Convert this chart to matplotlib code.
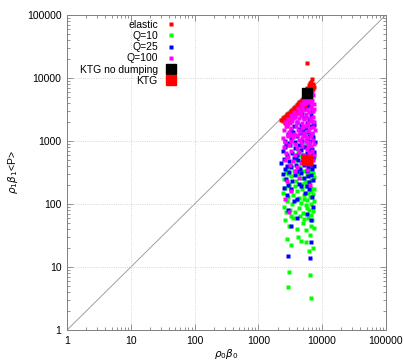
import matplotlib
matplotlib.use("Agg")
import matplotlib.pyplot as plt
from matplotlib.ticker import FixedLocator, NullFormatter, LogLocator

plt.rcParams['font.family'] = ['Liberation Sans', 'DejaVu Sans']

# ---- data ----
elastic = [(2300,2150),(2400,2300),(2450,2050),(2550,2400),(2600,2250),(2700,2500),(2750,2300),(2800,2650),
           (2900,2600),(2950,2450),(3000,2800),(3050,2700),(3100,2500),(3200,3000),(3250,2850),(3300,2600),
           (3400,3150),(3450,3000),(3500,2800),(3600,3350),(3650,3200),(3700,2900),(3800,3500),(3850,3300),
           (3900,3100),(4000,3700),(4050,3500),(4100,3200),(4200,3900),(4250,3600),(4300,3300),(4400,4100),
           (4450,3800),(4500,3500),(4600,4300),(4650,4000),(4700,3600),(4800,4500),(4850,4200),(4900,3800),
           (5000,4700),(5100,4400),(5200,4900),(5300,4600),(5400,5100),(5500,4800),(5600,5300),(5700,5000),
           (5800,5600),(5900,5200),(6000,5800),(6100,5500),(6200,6100),(6300,5700),(6400,6300),(6500,6000),
           (6600,6700),(6700,6200),(6800,7000),(6900,6500),(7000,7300),(7100,6800),(7200,7600),(6500,8200),
           (6800,8800),(7000,9500),(6300,7800),(5900,7000),(7300,8000),(7500,7200),
           (3000,2100),(3400,2300),(3800,2600),(4200,2800),(4600,3000),(5000,3300),(5400,3600),(5800,3900),
           (6200,4200),(2600,1900),(3600,2400),(4400,3100),(5200,3700),(2800,1700),(5600,4100),(5700,17000)]

q10 = [(5500,900),(6800,750),(7300,650),(4200,700),(6100,620),
       (3200,420),(3800,500),(4300,380),(4800,550),(5300,450),(5800,520),(6300,400),(6900,480),(7400,550),
       (4500,600),(2800,370),(6600,580),
       (2500,250),(2700,320),(3000,210),(3300,280),(3600,340),(3900,230),(4200,300),(4600,260),(5000,330),
       (5400,220),(5900,290),(6300,340),(6700,240),(7100,310),(7500,270),(2900,300),(4800,210),(6000,220),
       (2400,150),(2600,180),(2900,130),(3200,170),(3500,140),(3800,190),(4100,160),(4400,125),(4800,175),
       (5200,140),(5600,195),(6000,150),(6400,130),(6800,180),(7200,145),(7600,170),(3000,190),(5300,120),
       (6600,160),
       (2500,90),(2800,110),(3100,80),(3400,100),(3700,75),(4000,115),(4300,85),(4700,105),(5100,72),
       (5500,95),(5900,115),(6300,80),(6700,100),(7100,78),(7500,110),(2700,75),(5800,85),
       (2600,55),(3000,45),(3500,60),(4000,40),(4500,65),(5000,50),(5600,38),(6100,60),(6600,45),(7000,55),
       (7400,42),(3200,65),(5300,58),(6800,68),
       (2800,28),(3300,22),(4200,30),(5500,25),(6400,32),(7100,20),(6200,18),(4700,26),
       (3000,8.3),(2900,4.8),(6500,7.5),(6700,3.2)]

q25 = [(5500,3200),(6300,3600),(7000,3000),(4800,2700),(6700,2600),
       (3600,1700),(4100,2000),(4700,1800),(5200,2300),(5800,1900),(6200,2200),(6600,1700),(7200,2000),
       (7600,1800),(3300,1500),(5500,1600),(4400,1550),
       (2600,1000),(2900,1300),(3200,1100),(3500,1400),(3800,950),(4100,1200),(4500,1350),(4900,1000),
       (5300,1250),(5700,1100),(6100,1400),(6500,1000),(6900,1300),(7300,1150),(7700,950),(3000,920),
       (5000,1450),(6300,1200),
       (2400,700),(2600,800),(2800,600),(3100,850),(3400,650),(3700,780),(4000,600),(4300,880),(4600,720),
       (5000,600),(5400,800),(5800,650),(6200,850),(6600,600),(7000,760),(7400,680),(2700,880),(4800,820),
       (3900,560),(6400,720),
       (2300,450),(2500,520),(2800,400),(3000,480),(3300,380),(3600,530),(3900,420),(4200,500),(4500,360),
       (4900,470),(5300,410),(5600,540),(6000,380),(6400,500),(6800,420),(7200,530),(7600,400),(2600,360),
       (5100,520),(6900,360),
       (2400,300),(2700,250),(3000,320),(3400,230),(3800,290),(4300,210),(4700,310),(5200,260),(5700,330),
       (6200,220),(6700,290),(7100,240),(2900,200),(4000,340),(6000,280),
       (2500,180),(2800,140),(3300,170),(4100,120),(4600,190),(5400,150),(6300,170),(7000,130),(3600,110),
       (5900,190),
       (2900,80),(4000,60),(5800,70),(6800,55),(3200,45),(7300,90),
       (2900,15),(6500,14),(6700,25)]

q100 = [(5200,4300),(5600,5000),(6100,5200),(6500,5600),(6900,6000),(7200,5400),(6300,4800),(5800,4500),
        (4200,3400),(4600,3800),(5000,3900),(5500,4000),(6000,4200),(6600,4100),(7000,4400),(7400,3900),
        (4800,3300),(6800,3600),
        (3200,2600),(3600,2900),(3900,2700),(4300,3000),(4700,2800),(5100,3100),(5500,2700),(5900,3200),
        (6300,2900),(6700,3300),(7100,3000),(7500,3200),(3400,2300),
        (2600,2000),(2900,2200),(3100,1900),(3400,2100),(3700,2400),(4000,2000),(4400,2300),(4800,1900),
        (5200,2200),(5600,2400),(6000,2000),(6400,2300),(6800,2100),(7200,2400),(7600,2000),(2800,1800),
        (4600,2500),(5800,1800),
        (2500,1500),(2700,1700),(3000,1400),(3300,1600),(3600,1300),(3900,1700),(4200,1500),(4500,1400),
        (4900,1600),(5300,1350),(5700,1700),(6100,1450),(6500,1600),(6900,1350),(7300,1650),(7700,1500),
        (2900,1250),(5000,1750),
        (2400,1100),(2600,950),(2900,1200),(3200,1000),(3500,1150),(3800,900),(4100,1250),(4400,1050),
        (4700,950),(5100,1200),(5500,1000),(5900,1150),(6300,950),(6700,1200),(7100,1050),(7500,900),
        (3300,1250),(4900,1100),
        (2500,800),(2700,650),(3000,850),(3300,700),(3700,600),(4000,780),(4300,680),(4800,820),(5300,600),
        (5800,750),(6200,650),(6600,820),(7000,700),(7400,600),(2900,560),(6000,880),
        (2600,500),(3100,420),(3500,480),(4100,380),(4600,450),(5200,520),(5700,350),(6400,430),(7100,500),
        (3800,330),
        (2800,230),(3300,160),(2600,120),(6500,200),(4400,260),(3000,75)]

ktg_nodump_x, ktg_nodump_y = [5700], [5800]
ktg_x, ktg_y = [5700], [500]

tick_vals = [1, 10, 100, 1000, 10000, 100000]
tick_labels = ['1', '10', '100', '1000', '10000', '100000']

# ---- figure ----
fig = plt.figure(figsize=(4.04, 3.6), dpi=100)
ax = fig.add_axes([0.166, 0.0833, 0.789, 0.875])
ax.set_xscale('log')
ax.set_yscale('log')
ax.set_xlim(1, 1e5)
ax.set_ylim(1, 1e5)

ax.plot(tick_vals, tick_vals, color='#a0a0a0', lw=0.7, zorder=1)

ms = 2.6
def pts(d):
    return [p[0] for p in d], [p[1] for p in d]

for data, col, lab in [(elastic, '#ff0000', 'elastic'), (q10, '#00ff00', 'Q=10'),
                       (q25, '#0000ff', 'Q=25'), (q100, '#ff00ff', 'Q=100')]:
    x, y = pts(data)
    ax.plot(x, y, linestyle='none', marker='s', ms=ms, mec='none', color=col, label=lab, zorder=3)

ax.plot(ktg_nodump_x, ktg_nodump_y, linestyle='none', marker='s', ms=7.5, color='black',
        label='KTG no dumping', zorder=5)
ax.plot(ktg_x, ktg_y, linestyle='none', marker='s', ms=7.5, color='#ff0000', label='KTG', zorder=5)

ax.xaxis.set_major_locator(FixedLocator(tick_vals))
ax.yaxis.set_major_locator(FixedLocator(tick_vals))
ax.set_xticklabels(tick_labels)
ax.set_yticklabels(tick_labels)
for a in (ax.xaxis, ax.yaxis):
    a.set_minor_locator(LogLocator(base=10, subs=range(2, 10)))
    a.set_minor_formatter(NullFormatter())

ax.tick_params(which='both', direction='in', top=True, right=True, colors='#808080',
               labelcolor='black', labelsize=7.5, width=0.6)
ax.tick_params(which='major', length=4, pad=4)
ax.tick_params(which='minor', length=2)
for s in ax.spines.values():
    s.set_color('#808080')
    s.set_linewidth(0.7)

ax.grid(True, which='major', color='#c8c8c8', linestyle=':', linewidth=0.6)

ax.set_xlabel(r'$\rho_0\beta_0$', fontsize=7.5, labelpad=1)
ax.set_ylabel(r'$\rho_1\beta_1$<P>', fontsize=7.5, labelpad=5)

leg = ax.legend(loc='upper left', bbox_to_anchor=(0.02, 1.005), markerfirst=False, frameon=False,
                fontsize=7.5, handlelength=1.0, handletextpad=0.8, labelspacing=0.12,
                borderaxespad=0.2, markerscale=1.0)

fig.savefig('out.png', dpi=100)
